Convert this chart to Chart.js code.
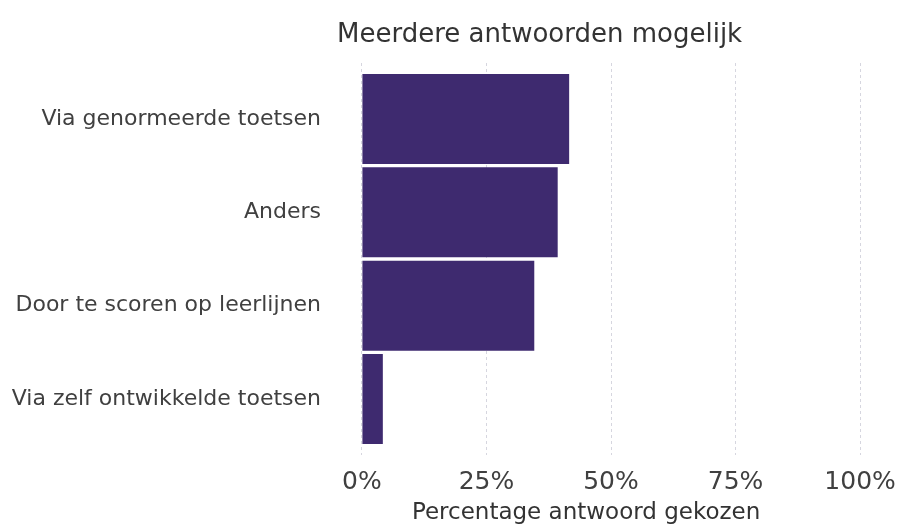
<!DOCTYPE html>
<html>
<head>
<meta charset="utf-8">
<script src="https://cdn.jsdelivr.net/npm/chart.js@4/dist/chart.umd.min.js"></script>
<style>
  html, body { margin: 0; padding: 0; background: #ffffff; }
  #wrap { width: 901px; height: 526px; }
</style>
</head>
<body>
<div id="wrap"><canvas id="c" width="901" height="526"></canvas></div>
<script>
// ---- data ----
const chartTitle = "Meerdere antwoorden mogelijk";
const xAxisTitle = "Percentage antwoord gekozen";
const categories = [
  "Via genormeerde toetsen",
  "Anders",
  "Door te scoren op leerlijnen",
  "Via zelf ontwikkelde toetsen"
];
const percentages = [41.6, 39.3, 34.6, 4.2];
const xTickValues = [0, 25, 50, 75, 100];

const FONT = '"DejaVu Sans", Verdana, sans-serif';
const barColor = '#3e2a6f';

const barData = percentages.map((v, i) => ({ x: v, y: i }));

const xTitlePlugin = {
  id: 'xTitlePlugin',
  afterDraw(chart) {
    const ctx = chart.ctx;
    const xs = chart.scales.x;
    ctx.save();
    ctx.font = '23px ' + FONT;
    ctx.fillStyle = '#333333';
    ctx.textAlign = 'center';
    ctx.textBaseline = 'alphabetic';
    ctx.fillText(xAxisTitle, xs.getPixelForValue(45), 519);
    ctx.restore();
  }
};

new Chart(document.getElementById('c'), {
  type: 'bar',
  data: {
    datasets: [{
      data: barData,
      backgroundColor: barColor,
      borderWidth: 0,
      categoryPercentage: 1,
      barPercentage: 0.965
    }]
  },
  options: {
    indexAxis: 'y',
    responsive: false,
    animation: false,
    layout: { padding: { left: 0, right: 16, top: 0, bottom: 0 } },
    plugins: {
      legend: { display: false },
      tooltip: { enabled: false },
      title: {
        display: true,
        text: chartTitle,
        align: 'start',
        fullSize: false,
        color: '#333333',
        font: { family: FONT, size: 26, weight: 'normal' },
        padding: { top: 19.5, bottom: 12.3 }
      }
    },
    scales: {
      x: {
        type: 'linear',
        position: 'bottom',
        offset: false,
        min: -5,
        max: 105,
        afterBuildTicks(scale) {
          scale.ticks = xTickValues.map(v => ({ value: v }));
        },
        afterFit(scale) {
          scale.height = 71;
          scale.paddingLeft = 0;
          scale.paddingRight = 0;
        },
        grid: {
          color: 'rgba(200,200,212,0.75)',
          lineWidth: 1,
          drawTicks: false,
          offset: false
        },
        border: { display: false, dash: [3, 3] },
        ticks: {
          padding: 12,
          color: '#404040',
          font: { family: FONT, size: 25 },
          callback: (v) => v + '%'
        }
      },
      y: {
        type: 'linear',
        position: 'left',
        offset: false,
        reverse: true,
        min: -0.6,
        max: 3.6,
        afterBuildTicks(scale) {
          scale.ticks = categories.map((c, i) => ({ value: i }));
        },
        afterFit(scale) { scale.width = 337; },
        grid: { display: false, drawTicks: false, offset: false },
        border: { display: false },
        ticks: {
          padding: 16,
          color: '#404040',
          font: { family: FONT, size: 22 },
          callback: (v) => categories[v]
        }
      }
    }
  },
  plugins: [xTitlePlugin]
});
</script>
</body>
</html>
